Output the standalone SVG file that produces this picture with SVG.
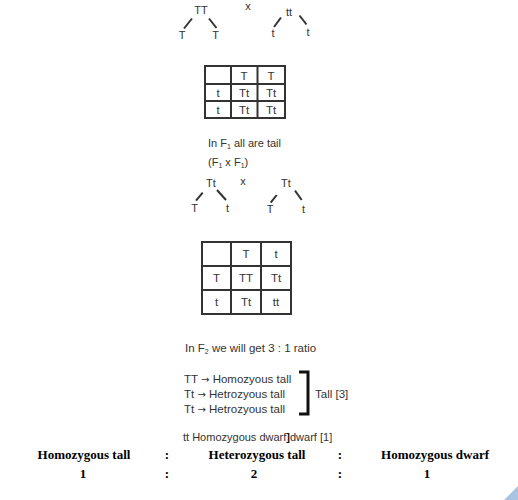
<svg xmlns="http://www.w3.org/2000/svg" width="518" height="500" viewBox="0 0 518 500">
<style>
.t{font-family:"Liberation Sans",Arial,sans-serif;font-size:11px;fill:#333}
.m{font-size:11.5px}
.c{text-anchor:middle}
.ln{stroke:#333;stroke-width:2;fill:none}
.grid{stroke:#333;stroke-width:2;fill:none}
.b{font-family:"Liberation Serif","Times New Roman",serif;font-size:13px;font-weight:bold;fill:#000;text-anchor:middle}
.s{font-size:7px}
.ar{font-family:"DejaVu Sans",sans-serif;font-size:10px}
</style>
<rect width="518" height="500" fill="#fff"/>
<g id="cross1">
<text class="t c" x="201" y="14">TT</text>
<text class="t c" x="248" y="10">x</text>
<text class="t c" x="289" y="15.5">tt</text>
<text class="t c" x="182" y="39">T</text>
<text class="t c" x="215.5" y="39">T</text>
<text class="t c" x="273" y="36.5">t</text>
<text class="t c" x="308" y="35.5">t</text>
</g>
<g id="connectors">
<line class="ln" x1="192" y1="18.5" x2="184" y2="28.5"/>
<line class="ln" x1="209" y1="18.5" x2="216.5" y2="28"/>
<line class="ln" x1="281" y1="17.5" x2="274" y2="27"/>
<line class="ln" x1="299.5" y1="15.5" x2="306.5" y2="24.5"/>
<line class="ln" x1="202.7" y1="192.7" x2="196" y2="200.7"/>
<line class="ln" x1="217" y1="190" x2="226" y2="200"/>
<line class="ln" x1="276.7" y1="195" x2="270.7" y2="202.7"/>
<line class="ln" x1="295" y1="190.7" x2="301.7" y2="200"/>
</g>
<g id="punnett1">
<rect class="grid" x="205" y="66" width="80" height="52"/>
<line class="grid" x1="205" y1="84" x2="285" y2="84"/>
<line class="grid" x1="205" y1="101" x2="285" y2="101"/>
<line class="grid" x1="231" y1="66" x2="231" y2="118"/>
<line class="grid" x1="257.5" y1="66" x2="257.5" y2="118"/>
<text class="t m c" x="244" y="80">T</text>
<text class="t m c" x="271" y="80">T</text>
<text class="t m c" x="218" y="97">t</text>
<text class="t m c" x="244" y="97">Tt</text>
<text class="t m c" x="271" y="97">Tt</text>
<text class="t m c" x="218" y="114">t</text>
<text class="t m c" x="244" y="114">Tt</text>
<text class="t m c" x="271" y="114">Tt</text>
</g>
<g id="f1text">
<text class="t" x="208" y="147">In F<tspan class="s" dy="2">1</tspan><tspan dy="-2"> all are tail</tspan></text>
<text class="t" x="208" y="166">(F<tspan class="s" dy="2">1</tspan><tspan dy="-2"> x F</tspan><tspan class="s" dy="2">1</tspan><tspan dy="-2">)</tspan></text>
</g>
<g id="cross2">
<text class="t c" x="211" y="187">Tt</text>
<text class="t c" x="243" y="185">x</text>
<text class="t c" x="286" y="187">Tt</text>
<text class="t c" x="194.5" y="211.5">T</text>
<text class="t c" x="227.5" y="211.5">t</text>
<text class="t c" x="270" y="213">T</text>
<text class="t c" x="303.5" y="212.5">t</text>
</g>
<g id="punnett2">
<rect class="grid" x="202" y="242" width="89" height="72"/>
<line class="grid" x1="202" y1="266" x2="291" y2="266"/>
<line class="grid" x1="202" y1="290" x2="291" y2="290"/>
<line class="grid" x1="231" y1="242" x2="231" y2="314"/>
<line class="grid" x1="261" y1="242" x2="261" y2="314"/>
<text class="t m c" x="246" y="258">T</text>
<text class="t m c" x="276" y="258">t</text>
<text class="t m c" x="216.5" y="282">T</text>
<text class="t m c" x="246" y="282">TT</text>
<text class="t m c" x="276" y="282">Tt</text>
<text class="t m c" x="216.5" y="306">t</text>
<text class="t m c" x="246" y="306">Tt</text>
<text class="t m c" x="276" y="306">tt</text>
</g>
<g id="f2text">
<text class="t m" x="185" y="352">In F<tspan class="s" dy="2">2</tspan><tspan dy="-2"> we will get 3 : 1 ratio</tspan></text>
</g>
<g id="genotypes">
<text class="t m" x="184" y="383">TT <tspan class="ar">→</tspan> Homozyous tall</text>
<text class="t m" x="184" y="398">Tt <tspan class="ar">→</tspan> Hetrozyous tall</text>
<text class="t m" x="184" y="413">Tt <tspan class="ar">→</tspan> Hetrozyous tall</text>
<path d="M299 372 H308 V414 H299" stroke="#111" stroke-width="3" fill="none"/>
<text class="t m" x="315" y="398">Tall [3]</text>
<text class="t" x="183" y="441">tt  Homozygous dwarf<tspan font-weight="bold" fill="#111">]</tspan>dwarf [1]</text>
</g>
<g id="ratio">
<text class="b" x="84" y="459">Homozygous tall</text>
<text class="b" x="167" y="459">:</text>
<text class="b" x="257" y="459">Heterozygous tall</text>
<text class="b" x="340" y="459">:</text>
<text class="b" x="435" y="459">Homozygous dwarf</text>
<text class="b" x="83" y="478">1</text>
<text class="b" x="167" y="478">:</text>
<text class="b" x="254" y="478">2</text>
<text class="b" x="340" y="478">:</text>
<text class="b" x="427" y="478">1</text>
</g>
<polygon points="504,500 518,486 518,500" fill="#a9c3e3"/>
</svg>
